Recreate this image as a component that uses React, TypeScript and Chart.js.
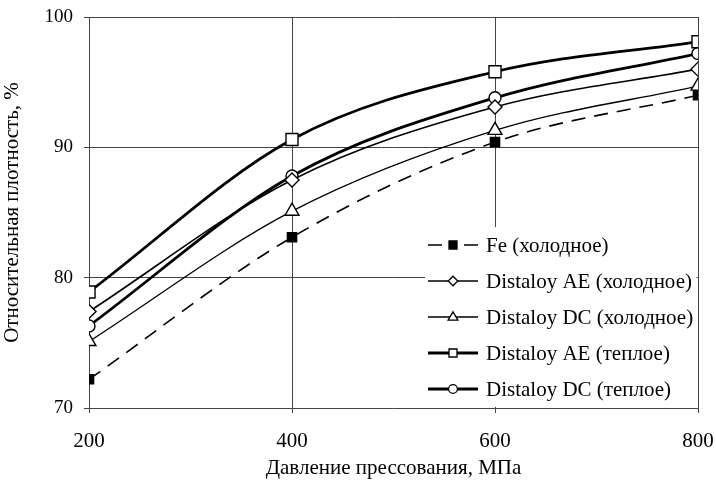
import React, { useEffect, useRef } from "react";
import { Chart, registerables } from "chart.js";

Chart.register(...registerables);

const pressures = [200, 400, 600, 800];
const feCold = [72.2, 83.1, 90.4, 94.0];
const aeCold = [77.4, 87.5, 93.1, 96.0];
const dcCold = [75.1, 85.1, 91.3, 94.7];
const aeWarm = [78.9, 90.6, 95.8, 98.1];
const dcWarm = [76.3, 87.8, 93.8, 97.2];
const seriesLabels = [
  "Fe (холодное)",
  "Distaloy AE (холодное)",
  "Distaloy DC (холодное)",
  "Distaloy AE (теплое)",
  "Distaloy DC (теплое)",
];
const xTicks = [200, 400, 600, 800];
const yTicks = [70, 80, 90, 100];
const xTitle = "Давление прессования, МПа";
const yTitle = "Относительная плотность, %";

const FONT = "'Liberation Serif', 'DejaVu Serif', serif";

function toPoints(vals: number[]) {
  return pressures.map((p, i) => ({ x: p, y: vals[i] }));
}

function drawMarker(ctx: CanvasRenderingContext2D, style: string, x: number, y: number, s: number, filled: boolean) {
  ctx.save();
  ctx.beginPath();
  if (style === "rect") {
    ctx.rect(x - s, y - s, 2 * s, 2 * s);
  } else if (style === "rectRot") {
    ctx.moveTo(x, y - s * 1.2);
    ctx.lineTo(x + s * 1.2, y);
    ctx.lineTo(x, y + s * 1.2);
    ctx.lineTo(x - s * 1.2, y);
    ctx.closePath();
  } else if (style === "triangle") {
    const r = s * 1.3;
    ctx.moveTo(x, y - r);
    ctx.lineTo(x + r * 0.95, y + r * 0.6);
    ctx.lineTo(x - r * 0.95, y + r * 0.6);
    ctx.closePath();
  } else {
    ctx.arc(x, y, s * 1.1, 0, Math.PI * 2);
  }
  ctx.fillStyle = filled ? "#000" : "#fff";
  ctx.fill();
  ctx.lineWidth = 1.3;
  ctx.strokeStyle = "#000";
  ctx.setLineDash([]);
  ctx.stroke();
  ctx.restore();
}

const legendPlugin = {
  id: "insideLegend",
  afterDraw(chart: any) {
    const ctx: CanvasRenderingContext2D = chart.ctx;
    const area = chart.chartArea;
    const boxLeft = area.left + 336;
    const boxTop = area.top + 210;
    ctx.save();
    ctx.fillStyle = "#fff";
    ctx.fillRect(boxLeft, boxTop, area.right - 1.5 - boxLeft, area.bottom - 1 - boxTop);
    chart.data.datasets.forEach((ds: any, i: number) => {
      const y = area.top + 228 + i * 36;
      const x0 = area.left + 339;
      const x1 = area.left + 389;
      ctx.save();
      ctx.strokeStyle = "#000";
      ctx.lineWidth = ds.borderWidth;
      if (ds.borderDash && ds.borderDash.length) {
        ctx.beginPath();
        ctx.moveTo(x0, y);
        ctx.lineTo(x0 + 14, y);
        ctx.moveTo(x1 - 14, y);
        ctx.lineTo(x1, y);
        ctx.stroke();
      } else {
        ctx.beginPath();
        ctx.moveTo(x0, y);
        ctx.lineTo(x1, y);
        ctx.stroke();
      }
      ctx.restore();
      drawMarker(ctx, ds.pointStyle, (x0 + x1) / 2, y, 4, ds.pointBackgroundColor === "#000");
      ctx.fillStyle = "#000";
      ctx.font = "21px " + FONT;
      ctx.textBaseline = "middle";
      ctx.textAlign = "left";
      ctx.fillText(ds.label, x1 + 8, y + 1);
    });
    ctx.restore();
  },
};

export default function App() {
  const ref = useRef<HTMLCanvasElement | null>(null);
  useEffect(() => {
    document.body.style.margin = "0";
    const canvas = ref.current!;
    const common = {
      borderColor: "#000",
      pointBorderColor: "#000",
      pointBorderWidth: 1.4,
      cubicInterpolationMode: "monotone" as const,
      fill: false,
    };
    const chart = new Chart(canvas, {
      type: "line",
      data: {
        datasets: [
          {
            ...common,
            label: seriesLabels[0],
            data: toPoints(feCold),
            borderWidth: 1.6,
            borderDash: [14, 9],
            pointStyle: "rect",
            pointRadius: 6.5,
            pointBackgroundColor: "#000",
          },
          {
            ...common,
            label: seriesLabels[1],
            data: toPoints(aeCold),
            borderWidth: 1.6,
            pointStyle: "rectRot",
            pointRadius: 7,
            pointBackgroundColor: "#fff",
          },
          {
            ...common,
            label: seriesLabels[2],
            data: toPoints(dcCold),
            borderWidth: 1.3,
            pointStyle: "triangle",
            pointRadius: 8,
            pointBackgroundColor: "#fff",
          },
          {
            ...common,
            label: seriesLabels[3],
            data: toPoints(aeWarm),
            borderWidth: 2.8,
            pointStyle: "rect",
            pointRadius: 8.5,
            pointBackgroundColor: "#fff",
          },
          {
            ...common,
            label: seriesLabels[4],
            data: toPoints(dcWarm),
            borderWidth: 2.8,
            pointStyle: "circle",
            pointRadius: 6,
            pointBackgroundColor: "#fff",
          },
        ] as any,
      },
      options: {
        responsive: false,
        animation: false,
        layout: { padding: { top: 17, right: 18, left: 0, bottom: 0 } },
        plugins: { legend: { display: false }, tooltip: { enabled: false } },
        scales: {
          x: {
            type: "linear",
            min: 200,
            max: 800,
            afterFit: (s: any) => {
              s.height = 73;
              s.paddingLeft = 0;
              s.paddingRight = 0;
            },
            afterBuildTicks: (s: any) => {
              s.ticks = xTicks.map((v) => ({ value: v }));
            },
            ticks: {
              color: "#000",
              font: { family: FONT, size: 21 },
              padding: 16,
              maxRotation: 0,
            },
            grid: { color: "#444", lineWidth: 1, tickLength: 5, tickColor: "#444" },
            border: { display: false },
            title: {
              display: true,
              text: xTitle,
              color: "#000",
              font: { family: FONT, size: 21 },
              padding: { top: 0, bottom: 0 },
            },
          },
          y: {
            type: "linear",
            min: 70,
            max: 100,
            afterFit: (s: any) => {
              s.width = 89;
              s.paddingTop = 0;
              s.paddingBottom = 0;
            },
            afterBuildTicks: (s: any) => {
              s.ticks = yTicks.map((v) => ({ value: v }));
            },
            ticks: {
              color: "#000",
              font: { family: FONT, size: 19 },
              padding: 11,
            },
            grid: { color: "#444", lineWidth: 1, tickLength: 5, tickColor: "#444" },
            border: { display: false },
            title: {
              display: true,
              text: yTitle,
              color: "#000",
              font: { family: FONT, size: 21 },
              padding: { top: 0, bottom: 0 },
            },
          },
        },
      },
      plugins: [legendPlugin],
    });
    return () => chart.destroy();
  }, []);
  return (
    <div style={{ position: "fixed", left: 0, top: 0, width: 716, height: 481, background: "#fff" }}>
      <canvas ref={ref} width={716} height={481} />
    </div>
  );
}
